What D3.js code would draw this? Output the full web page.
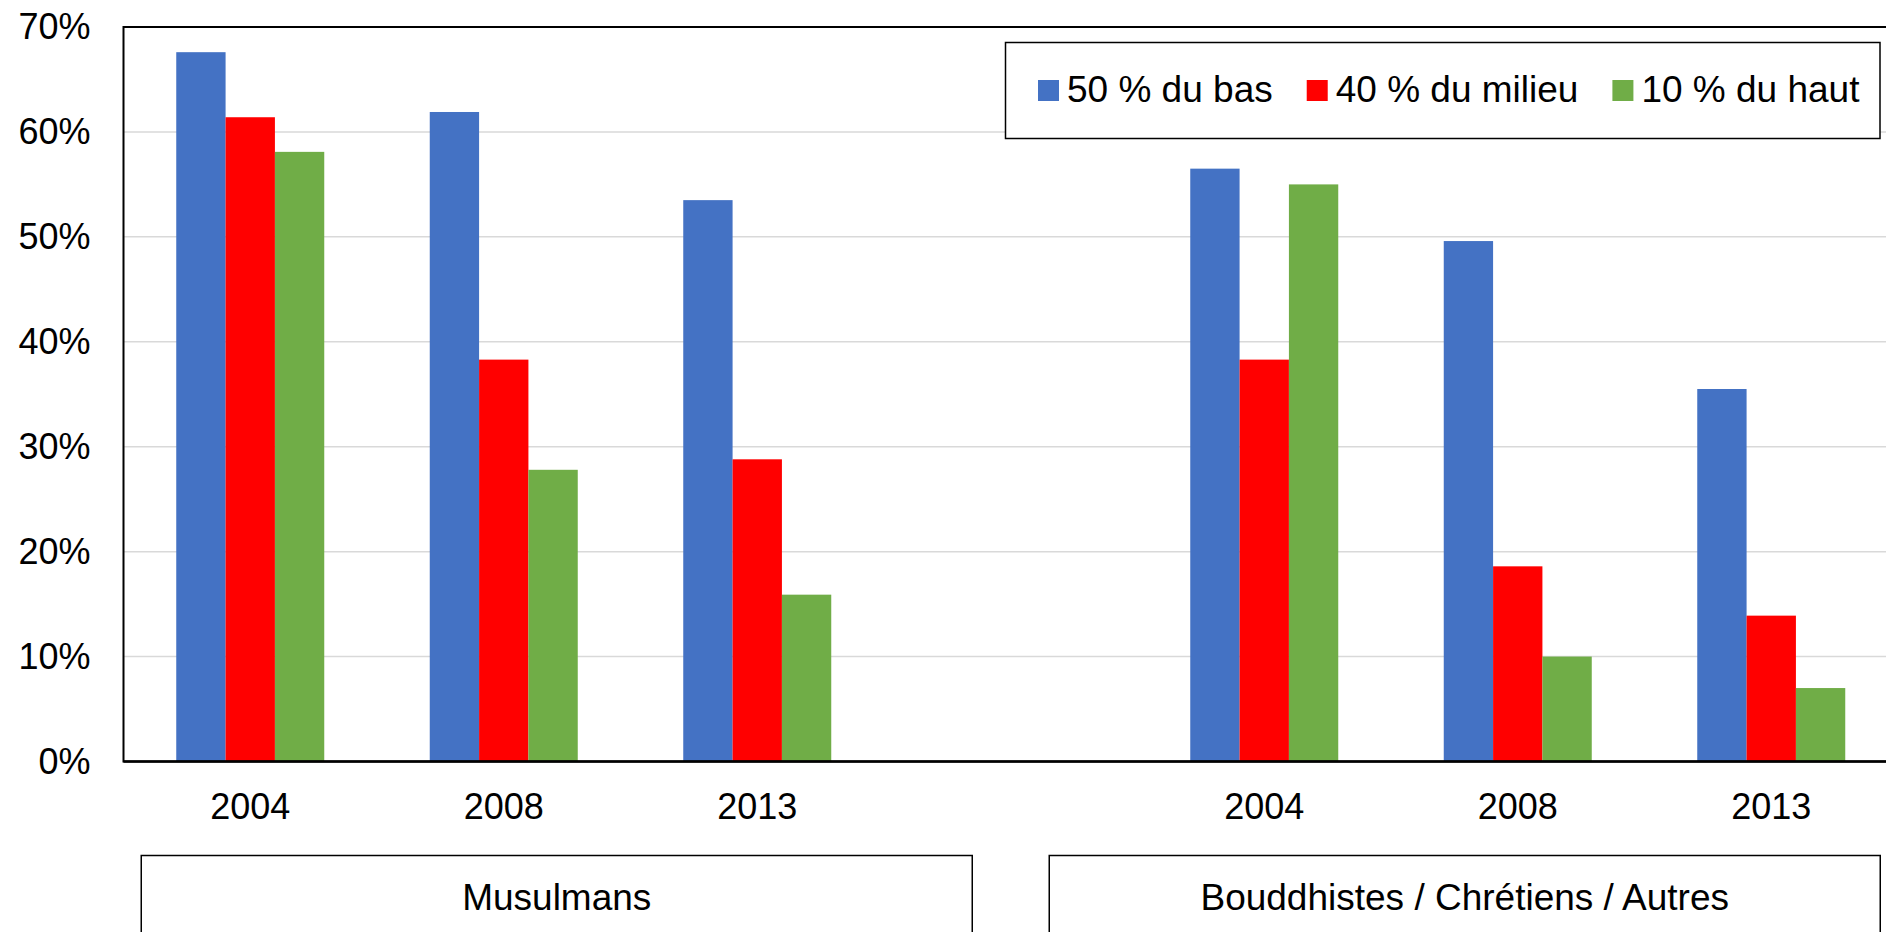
<!DOCTYPE html>
<html>
<head>
<meta charset="utf-8">
<script src="https://cdn.jsdelivr.net/npm/d3@7"></script>
<style>
  html, body { margin: 0; padding: 0; background: #fff; }
  svg { display: block; font-family: "Liberation Sans", Arial, sans-serif; }
  .axis text { fill: #000; font-size: 36px; }
  .legend text, .group-box text { fill: #000; font-size: 37px; }
</style>
</head>
<body>
<div id="chart"></div>
<script>
var groups = ["Musulmans", "Bouddhistes / Chrétiens / Autres"];
var years = ["2004", "2008", "2013"];
var seriesNames = ["50 % du bas", "40 % du milieu", "10 % du haut"];
var seriesColors = ["#4472C4", "#FF0000", "#70AD47"];

// valeurs en %
var musBas = [67.6, 61.9, 53.5];
var musMilieu = [61.4, 38.3, 28.8];
var musHaut = [58.1, 27.8, 15.9];
var autBas = [56.5, 49.6, 35.5];
var autMilieu = [38.3, 18.6, 13.9];
var autHaut = [55.0, 10.0, 7.0];

var yTicks = [0, 10, 20, 30, 40, 50, 60, 70];

var groupValues = [
  [musBas, musMilieu, musHaut],
  [autBas, autMilieu, autHaut]
];

// one slot per year and group, with an empty slot between the two groups
var slots = [];
var rows = [];
groups.forEach(function(g, gi) {
  if (gi > 0) slots.push("gap" + gi);
  years.forEach(function(yr, yi) {
    var key = gi + "-" + yr;
    slots.push(key);
    rows.push({
      key: key,
      year: yr,
      values: groupValues[gi].map(function(s) { return s[yi]; })
    });
  });
});

var fullWidth = 1886;
var fullHeight = 932;
var plot = {left: 123.5, top: 27, bottom: 761.5};
var step = 253.5;
var pad = 1 - 148 / step;

var x = d3.scaleBand()
  .domain(slots)
  .range([plot.left, plot.left + step * slots.length])
  .paddingInner(pad)
  .paddingOuter(pad / 2);

var xSeries = d3.scaleBand()
  .domain(d3.range(seriesNames.length))
  .range([0, x.bandwidth()]);

var y = d3.scaleLinear().domain([0, 70]).range([plot.bottom, plot.top]);

var svg = d3.select("#chart")
  .append("svg")
    .attr("width", fullWidth)
    .attr("height", fullHeight);

// gridlines
svg.append("g")
  .selectAll("line")
  .data(yTicks.filter(function(t) { return t > 0 && t < 70; }))
  .enter().append("line")
    .attr("x1", plot.left)
    .attr("x2", x.range()[1])
    .attr("y1", function(d) { return y(d); })
    .attr("y2", function(d) { return y(d); })
    .attr("stroke", "#d9d9d9")
    .attr("stroke-width", 1.5);

// bars
var bar = svg.selectAll(".bar")
  .data(rows)
  .enter().append("g")
    .attr("class", "bar")
    .attr("transform", function(d) { return "translate(" + x(d.key) + ",0)"; });

bar.selectAll("rect")
  .data(function(d) { return d.values; })
  .enter().append("rect")
    .attr("x", function(d, i) { return xSeries(i); })
    .attr("y", function(d) { return y(d); })
    .attr("width", xSeries.bandwidth())
    .attr("height", function(d) { return plot.bottom - y(d); })
    .attr("fill", function(d, i) { return seriesColors[i]; });

// plot border
svg.append("rect")
  .attr("x", plot.left)
  .attr("y", plot.top)
  .attr("width", x.range()[1] - plot.left)
  .attr("height", plot.bottom - plot.top)
  .attr("fill", "none")
  .attr("stroke", "#000")
  .attr("stroke-width", 2);

svg.append("line")
  .attr("x1", plot.left)
  .attr("x2", fullWidth)
  .attr("y1", plot.bottom)
  .attr("y2", plot.bottom)
  .attr("stroke", "#000")
  .attr("stroke-width", 2.5);

var yAxis = svg.append("g")
  .attr("class", "axis axis--y")
  .attr("transform", "translate(" + plot.left + ",0)")
  .call(d3.axisLeft(y)
    .tickValues(yTicks)
    .tickSize(0)
    .tickPadding(33)
    .tickFormat(function(d) { return d + "%"; }));
yAxis.select(".domain").remove();

var yearOf = {};
rows.forEach(function(r) { yearOf[r.key] = r.year; });

var xAxis = svg.append("g")
  .attr("class", "axis axis--x")
  .attr("transform", "translate(0," + plot.bottom + ")")
  .call(d3.axisBottom(x)
    .tickValues(rows.map(function(r) { return r.key; }))
    .tickSize(0)
    .tickPadding(32)
    .tickFormat(function(d) { return yearOf[d]; }));
xAxis.select(".domain").remove();
svg.selectAll(".axis text").attr("font-family", null).attr("font-size", null);

// legend
var legend = svg.append("g").attr("class", "legend");
legend.append("rect")
  .attr("x", 1005.5)
  .attr("y", 42.5)
  .attr("width", 874.5)
  .attr("height", 96)
  .attr("fill", "#fff")
  .attr("stroke", "#000")
  .attr("stroke-width", 1.5);

var lx = 1038;
seriesNames.forEach(function(name, i) {
  legend.append("rect")
    .attr("x", lx)
    .attr("y", 80)
    .attr("width", 21)
    .attr("height", 21)
    .attr("fill", seriesColors[i]);
  var t = legend.append("text")
    .attr("x", lx + 29)
    .attr("y", 102)
    .text(name);
  lx += 29 + t.node().getComputedTextLength() + 34;
});

// group boxes under the axis, symmetric around the empty slot
var gapCenter = x("gap1") + x.bandwidth() / 2;
var boxW = 831;
var boxGap = 77;
var boxes = svg.selectAll(".group-box")
  .data(groups)
  .enter().append("g")
    .attr("class", "group-box")
    .attr("transform", function(d, i) {
      var bx = i == 0 ? gapCenter - boxGap / 2 - boxW : gapCenter + boxGap / 2;
      return "translate(" + bx + ",855.5)";
    });

boxes.append("rect")
  .attr("width", boxW)
  .attr("height", 120)
  .attr("fill", "#fff")
  .attr("stroke", "#000")
  .attr("stroke-width", 1.5);

boxes.append("text")
  .attr("x", boxW / 2)
  .attr("y", 54.5)
  .attr("text-anchor", "middle")
  .text(function(d) { return d; });
</script>
</body>
</html>
